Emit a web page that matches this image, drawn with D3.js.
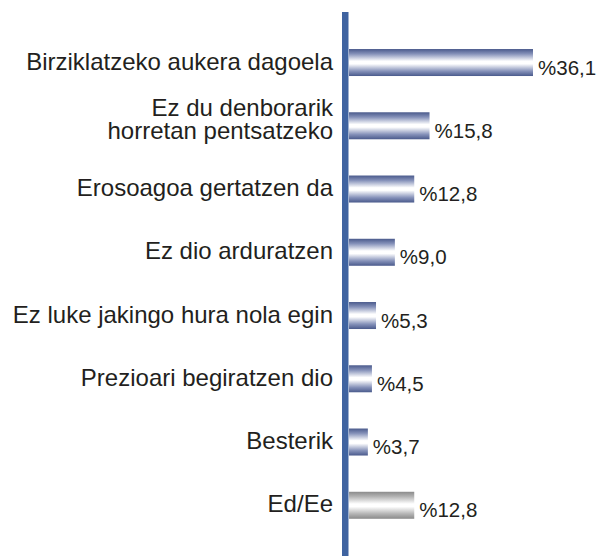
<!DOCTYPE html>
<html><head><meta charset="utf-8">
<script src="https://cdn.jsdelivr.net/npm/d3@7"></script>
<style>html,body{margin:0;padding:0;background:#fff;}</style>
</head><body>
<svg id="chart" width="600" height="556"></svg>
<script>
const categories = [
  ["Birziklatzeko aukera dagoela"],
  ["Ez du denborarik", "horretan pentsatzeko"],
  ["Erosoagoa gertatzen da"],
  ["Ez dio arduratzen"],
  ["Ez luke jakingo hura nola egin"],
  ["Prezioari begiratzen dio"],
  ["Besterik"],
  ["Ed/Ee"]
];
const values = [36.1, 15.8, 12.8, 9.0, 5.3, 4.5, 3.7, 12.8];
const valueLabels = ["%36,1", "%15,8", "%12,8", "%9,0", "%5,3", "%4,5", "%3,7", "%12,8"];
const greyFlags = [false, false, false, false, false, false, false, true];

const svg = d3.select("#chart");
const data = values.map((v, i) => ({key: i, lines: categories[i], value: v, label: valueLabels[i], grey: greyFlags[i]}));

const defs = svg.append("defs");
function grad(id, edge, mid1, light) {
  const g = defs.append("linearGradient").attr("id", id).attr("x1", 0).attr("y1", 0).attr("x2", 0).attr("y2", 1);
  [[0, edge], [0.18, mid1], [0.45, light], [0.55, light], [0.82, mid1], [1, edge]].forEach(([o, c]) =>
    g.append("stop").attr("offset", o).attr("stop-color", c));
}
grad("gBlue", "#4a5a8c", "#8591b9", "#ffffff");
grad("gGrey", "#8a8a8a", "#b4b4b4", "#ffffff");

const x = d3.scaleLinear().domain([0, 36.1]).range([349, 533]);
const y = d3.scalePoint().domain(data.map(d => d.key)).range([30.9, 536.9]).padding(0.5);
const barH = 27;

svg.append("rect").attr("x", 342).attr("y", 12).attr("width", 6.5).attr("height", 544).attr("fill", "#3f63a0");

svg.selectAll("rect.bar").data(data).join("rect").attr("class", "bar")
  .attr("x", x(0)).attr("y", d => y(d.key) - barH / 2)
  .attr("width", d => x(d.value) - x(0)).attr("height", barH)
  .attr("fill", d => d.grey ? "url(#gGrey)" : "url(#gBlue)");

const font = "Liberation Sans, Arial, Helvetica, sans-serif";
const catLines = [];
data.forEach(d => {
  const n = d.lines.length;
  d.lines.forEach((line, j) => {
    const off = n === 1 ? 7 : (j === 0 ? -10 : 13);
    catLines.push({text: line, key: d.key, off});
  });
});
svg.selectAll("text.cat").data(catLines).join("text").attr("class", "cat")
  .attr("text-anchor", "end").attr("font-family", font).attr("font-size", 24).attr("fill", "#231f20")
  .attr("x", 333).attr("y", d => y(d.key) + d.off)
  .text(d => d.text);

svg.selectAll("text.val").data(data).join("text").attr("class", "val")
  .attr("x", d => x(d.value) + 5).attr("y", d => y(d.key) + 12)
  .attr("font-family", font).attr("font-size", 20.5).attr("fill", "#231f20")
  .text(d => d.label);
</script>
</body></html>
